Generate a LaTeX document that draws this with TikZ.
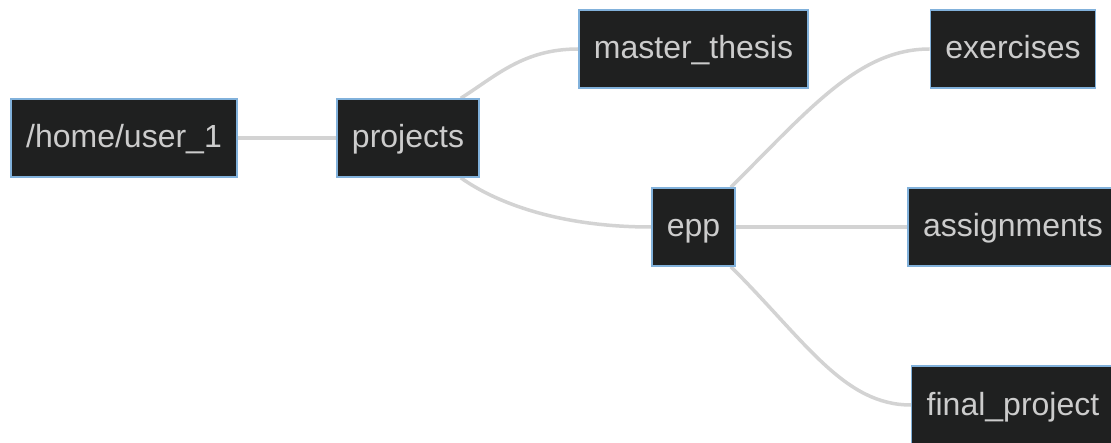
\documentclass[tikz,border=0pt]{standalone}
\usepackage{fontspec}
\setmainfont{Liberation Sans}
\usetikzlibrary{backgrounds}
\definecolor{nodefill}{HTML}{1F2020}
\definecolor{nodeborder}{HTML}{81B1DB}
\definecolor{nodetext}{HTML}{CCCCCC}
\definecolor{edgecol}{HTML}{D3D3D3}
\begin{document}
\begin{tikzpicture}[x=1pt,y=1pt,
  box/.style={draw=nodeborder, line width=1.5pt, fill=nodefill, text=nodetext,
    font=\fontsize{32}{38}\selectfont, inner xsep=15pt, inner ysep=0pt,
    text height=23pt, text depth=3pt, minimum height=78pt, anchor=center},
  edge/.style={draw=edgecol, line width=3.5pt}]
\useasboundingbox (0,0) rectangle (1111,442);
\node[box] (user) at (124,304) {/home/user\_1};
\node[box] (proj) at (408,304) {projects};
\node[box] (mt) at (693.5,393) {master\_thesis};
\node[box] (epp) at (693.5,215) {epp};
\node[box] (ex) at (1013,393) {exercises};
\node[box] (as) at (1013,215) {assignments};
\node[box] (fp) at (1013,37) {final\_project};
\begin{scope}[on background layer]
\path[edge] (user.east) -- (proj.west);
\path[edge] ([xshift=-19pt]proj.north east) .. controls +(35,22) and +(-55,0) .. (mt.west);
\path[edge] ([xshift=-19pt]proj.south east) .. controls +(35,-25) and +(-92,0) .. (epp.west);
\path[edge] (epp.east) -- (as.west);
\path[edge] ([xshift=-5pt]epp.north east) .. controls +(80,80) and +(-70,0) .. (ex.west);
\path[edge] ([xshift=-5pt]epp.south east) .. controls +(75,-75) and +(-67,0) .. (fp.west);
\end{scope}
\end{tikzpicture}
\end{document}
